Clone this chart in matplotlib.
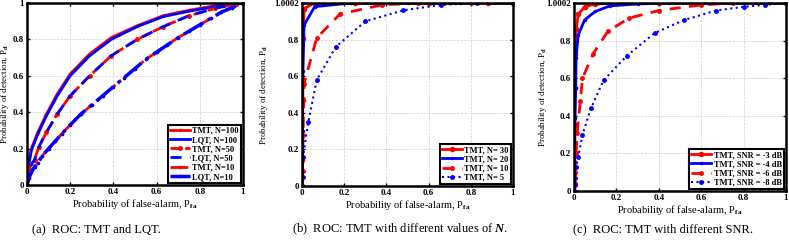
import numpy as np
import matplotlib
matplotlib.use('Agg')
import matplotlib.pyplot as plt

plt.rcParams['font.family'] = 'Liberation Serif'
plt.rcParams['font.weight'] = 'bold'
plt.rcParams['mathtext.fontset'] = 'custom'
plt.rcParams['mathtext.rm'] = 'Liberation Serif:bold'
plt.rcParams['mathtext.it'] = 'Liberation Serif:italic'
plt.rcParams['mathtext.bf'] = 'Liberation Serif:bold'

# %% data (a): TMT and LQT
pfa_a100 = [0, 0.005, 0.02, 0.05, 0.09, 0.14, 0.2, 0.29, 0.39, 0.51, 0.63, 0.75, 0.87, 0.95, 1]
pd_a100 = [0, 0.1, 0.2, 0.29, 0.39, 0.5, 0.61, 0.72, 0.81, 0.875, 0.93, 0.96, 0.985, 0.995, 1]
pd_a100l = [0, 0.09, 0.19, 0.28, 0.38, 0.49, 0.6, 0.71, 0.8, 0.87, 0.925, 0.955, 0.98, 0.993, 1]
pfa_a50 = [0, 0.01, 0.035, 0.055, 0.09, 0.14, 0.2, 0.29, 0.39, 0.51, 0.63, 0.75, 0.87, 0.95, 1]
pd_a50 = [0, 0.09, 0.14, 0.21, 0.29, 0.39, 0.49, 0.6, 0.71, 0.8, 0.87, 0.93, 0.97, 0.99, 1]
pfa_a10 = [0, 0.01, 0.02, 0.035, 0.05, 0.07, 0.1, 0.13, 0.16, 0.2, 0.25, 0.3, 0.35, 0.4,
           0.45, 0.5, 0.55, 0.6, 0.65, 0.7, 0.75, 0.8, 0.85, 0.9, 0.95, 1]
pd_a10 = [0, 0.04, 0.07, 0.1, 0.12, 0.16, 0.2, 0.24, 0.28, 0.33, 0.39, 0.44, 0.49, 0.54,
          0.59, 0.64, 0.69, 0.73, 0.77, 0.81, 0.845, 0.88, 0.915, 0.95, 0.975, 1]

# %% data (b): different N
pfa_b30 = [0, 0.001, 0.003, 0.005, 0.01, 0.06, 0.25, 0.6, 0.88, 1]
pd_b30 = [0, 0.14, 0.47, 0.81, 0.97, 1.0, 1.0, 1.0, 1.0, 1.0]
pfa_b20 = [0, 0.002, 0.003, 0.004, 0.01, 0.06, 0.23, 0.5, 0.75, 1]
pd_b20 = [0, 0.05, 0.3, 0.63, 0.88, 0.98, 1.0, 1.0, 1.0, 1.0]
pfa_b10 = [0, 0.003, 0.005, 0.01, 0.07, 0.18, 0.38, 0.55, 0.8, 1]
pd_b10 = [0, 0.08, 0.28, 0.56, 0.81, 0.94, 0.99, 1.0, 1.0, 1.0]
pfa_b5 = [0, 0.003, 0.005, 0.03, 0.07, 0.16, 0.3, 0.48, 0.66, 0.83, 1]
pd_b5 = [0, 0.05, 0.16, 0.35, 0.58, 0.76, 0.9, 0.96, 0.99, 1.0, 1.0]

# %% data (c): different SNR
pfa_c3 = [0, 0.001, 0.002, 0.003, 0.004, 0.005, 0.01, 0.02, 0.05, 0.1, 0.23, 0.4, 0.6, 1]
pd_c3 = [0, 0.09, 0.2, 0.35, 0.55, 0.73, 0.86, 0.94, 0.98, 0.995, 1.0, 1.0, 1.0, 1.0]
pfa_c4 = [0, 0.002, 0.004, 0.005, 0.008, 0.01, 0.02, 0.05, 0.1, 0.17, 0.3, 0.45, 0.6, 0.75, 1]
pd_c4 = [0, 0.05, 0.25, 0.39, 0.55, 0.71, 0.83, 0.91, 0.955, 0.985, 0.995, 1.0, 1.0, 1.0, 1.0]
pfa_c6 = [0, 0.003, 0.005, 0.01, 0.015, 0.03, 0.04, 0.09, 0.16, 0.26, 0.4, 0.6, 0.75, 1]
pd_c6 = [0, 0.04, 0.1, 0.2, 0.31, 0.48, 0.6, 0.73, 0.85, 0.92, 0.96, 0.99, 1.0, 1.0]
pfa_c8 = [0, 0.003, 0.005, 0.01, 0.02, 0.04, 0.08, 0.14, 0.25, 0.38, 0.52, 0.67, 0.8, 0.9, 1]
pd_c8 = [0, 0.03, 0.07, 0.13, 0.18, 0.3, 0.44, 0.59, 0.72, 0.84, 0.91, 0.96, 0.98, 0.99, 1.0]

red = '#ff0000'
blue = '#0000ff'

fig = plt.figure(figsize=(7.89, 2.40), dpi=100)
W, H = 789.0, 240.0
ax_a = fig.add_axes([27/W, 1-185/H, 216/W, 182/H])
ax_b = fig.add_axes([302/W, 1-186/H, 211/W, 183/H])
ax_c = fig.add_axes([574/W, 1-191/H, 212/W, 188/H])


def style(ax, top, ylab_x):
    ax.set_xlim(0, 1)
    ax.set_ylim(0, top)
    ax.set_xticks([0, 0.2, 0.4, 0.6, 0.8, 1])
    ax.set_xticklabels(['0', '0.2', '0.4', '0.6', '0.8', '1'])
    if top > 1:
        ax.set_yticks([0, 0.2, 0.4, 0.6, 0.8, 1, top])
        ax.set_yticklabels(['0', '0.2', '0.4', '0.6', '0.8', '', '1.0002'])
    else:
        ax.set_yticks([0, 0.2, 0.4, 0.6, 0.8, 1])
        ax.set_yticklabels(['0', '0.2', '0.4', '0.6', '0.8', '1'])
    ax.grid(True, color='#d0d0d0', linestyle='--', linewidth=0.5)
    ax.tick_params(direction='in', labelsize=6.5, length=2.5, width=1,
                   top=True, right=True, pad=2)
    for s in ax.spines.values():
        s.set_linewidth(1.8)
    ax.set_xlabel('Probability of false-alarm, P$_{\\mathrm{fa}}$', fontsize=7.5, labelpad=1)
    ax.set_ylabel('Probability of detection, P$_{\\mathrm{d}}$', fontsize=6.5)
    ax.yaxis.set_label_coords(ylab_x, 0.5)


def legend(ax):
    leg = ax.legend(loc='lower right', fontsize=6, handlelength=2.4, borderpad=0.25,
                    labelspacing=0.15, handletextpad=0.3, fancybox=False,
                    borderaxespad=0.25, framealpha=1)
    leg.get_frame().set_edgecolor('black')
    leg.get_frame().set_linewidth(1.5)


# %% (a)
ax = ax_a
ax.plot(pfa_a100, pd_a100, color=red, lw=2, marker='.', ms=3, label='TMT, N=100')
ax.plot(pfa_a100, pd_a100l, color=blue, lw=2, label='LQT, N=100')
ax.plot(pfa_a50, pd_a50, color=red, lw=2, ls='--', marker='.', ms=5, label='TMT, N=50')
ax.plot(pfa_a50, pd_a50, color=blue, lw=2, ls='--', dashes=(4, 3), label='LQT, N=50')
ax.plot(pfa_a10, pd_a10, color=red, lw=2, ls='-.', marker='.', ms=3, label='TMT, N=10')
ax.plot(pfa_a10, pd_a10, color=blue, lw=2.5, ls='-.', marker='.', ms=3, label='LQT, N=10')
style(ax, 1, -0.072)
legend(ax)

# %% (b)
ax = ax_b
ax.plot(pfa_b30, pd_b30, color=red, lw=2, marker='o', ms=3, label='TMT, N= 30')
ax.plot(pfa_b20, pd_b20, color=blue, lw=2, marker='.', ms=3, label='TMT, N= 20')
ax.plot(pfa_b10, pd_b10, color=red, lw=2, ls='--', dashes=(4, 3), marker='.', ms=5, label='TMT, N= 10')
ax.plot(pfa_b5, pd_b5, color=blue, lw=1.5, ls=':', marker='.', ms=5, label='TMT, N= 5')
style(ax, 1.0002, -0.15)
legend(ax)

# %% (c)
ax = ax_c
ax.plot(pfa_c3, pd_c3, color=red, lw=2, marker='o', ms=3, label='TMT, SNR = -3 dB')
ax.plot(pfa_c4, pd_c4, color=blue, lw=2, marker='.', ms=3, label='TMT, SNR = -4 dB')
ax.plot(pfa_c6, pd_c6, color=red, lw=2, ls='--', dashes=(4, 3), marker='.', ms=5, label='TMT, SNR = -6 dB')
ax.plot(pfa_c8, pd_c8, color=blue, lw=1.5, ls=':', marker='.', ms=5, label='TMT, SNR = -8 dB')
style(ax, 1.0002, -0.12)
legend(ax)

# %% captions
cap = dict(fontsize=9, fontweight='normal', ha='center', va='center')
fig.text(96/W, 1-229/H, '(a)  ROC: TMT and LQT.', **cap)
fig.text(400/W, 1-229/H, '(b)  ROC: TMT with different values of $\\mathit{N}$.', **cap)
fig.text(663/W, 1-229/H, '(c)  ROC: TMT with different SNR.', **cap)

fig.savefig('out.png', dpi=100)
